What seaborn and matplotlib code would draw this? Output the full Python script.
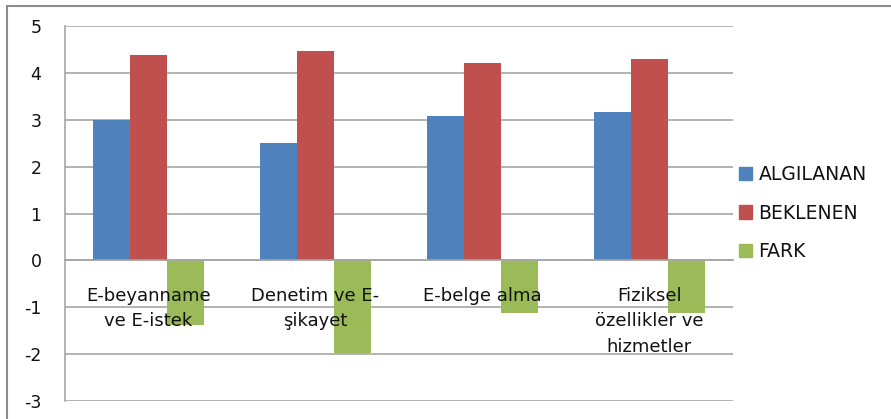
#!/usr/bin/env python3
# -*- coding: utf-8 -*-

import matplotlib as mpl
import matplotlib.pyplot as plt
import seaborn as sns
import pandas as pd
from matplotlib.patches import Rectangle

mpl.use("Agg")

sns.set_style("white")
plt.rcParams["font.family"] = ["DejaVu Sans"]
plt.rcParams["axes.unicode_minus"] = False
plt.rcParams["text.color"] = "#111111"
plt.rcParams["xtick.labelcolor"] = "#111111"
plt.rcParams["ytick.labelcolor"] = "#111111"

# data
categories = [
    "E-beyanname\nve E-istek",
    "Denetim ve E-\nşikayet",
    "E-belge alma",
    "Fiziksel\nözellikler ve\nhizmetler",
]
series = ["ALGILANAN", "BEKLENEN", "FARK"]
algilanan = [3.00, 2.50, 3.08, 3.16]
beklenen = [4.38, 4.47, 4.21, 4.29]
fark = [-1.38, -1.97, -1.13, -1.13]

palette = ["#4F81BD", "#C0504D", "#9BBB59"]
GRID = "#A6A6A6"

rows = []
for name, vals in zip(series, [algilanan, beklenen, fark]):
    for cat, v in zip(categories, vals):
        rows.append({"Kategori": cat, "Seri": name, "Deger": v})
df = pd.DataFrame(rows)

fig = plt.figure(figsize=(8.91, 4.19), dpi=100)
ax = fig.add_axes([65 / 891, 18 / 419, 668 / 891, 375 / 419])

sns.barplot(
    data=df,
    x="Kategori",
    y="Deger",
    hue="Seri",
    order=categories,
    hue_order=series,
    palette=palette,
    width=0.665,
    linewidth=0,
    saturation=1,
    ax=ax,
)

ax.set_xlim(-0.5, len(categories) - 0.5)
ax.set_ylim(-3, 5)
ax.set_yticks(range(-3, 6))
ax.yaxis.grid(True, color=GRID, linewidth=1.2)
ax.set_axisbelow(True)
# category labels sit on top of the bars, as in the original
ax.xaxis.set_zorder(5)
ax.set_xlabel("")
ax.set_ylabel("")

# category axis crosses at zero like the Excel original
for s in ["top", "right"]:
    ax.spines[s].set_visible(False)
ax.spines["bottom"].set_position(("data", 0))
ax.spines["bottom"].set_color(GRID)
ax.spines["bottom"].set_linewidth(1.2)
ax.spines["left"].set_color(GRID)
ax.spines["left"].set_linewidth(1.2)

ax.tick_params(axis="y", which="major", length=6, width=1.2, color=GRID,
               labelsize=12.5, pad=11, direction="out")
ax.tick_params(axis="x", which="major", length=0, pad=19, labelsize=13)
ax.set_xticks([0.5, 1.5, 2.5], minor=True)
ax.tick_params(axis="x", which="minor", length=5, width=1.2, color=GRID,
               direction="out")
for lbl in ax.get_xticklabels():
    lbl.set_linespacing(1.55)

leg = ax.get_legend()
leg.remove()
handles = [Rectangle((0, 0), 1, 1, color=c) for c in palette]
fig.legend(
    handles,
    series,
    loc="upper left",
    bbox_to_anchor=(722 / 891, 1 - 148 / 419),
    frameon=False,
    fontsize=13.5,
    handlelength=0.7,
    handleheight=0.7,
    handletextpad=0.35,
    labelspacing=1.05,
)

# outer chart frame (only top and left edges are inside the picture)
fig.patches.append(
    Rectangle((7 / 891, -0.1), 1.2, 1 - 6 / 419 + 0.1,
              transform=fig.transFigure, fill=False,
              edgecolor="#8C8C8C", linewidth=1.5)
)

fig.savefig("out.png", dpi=100)
